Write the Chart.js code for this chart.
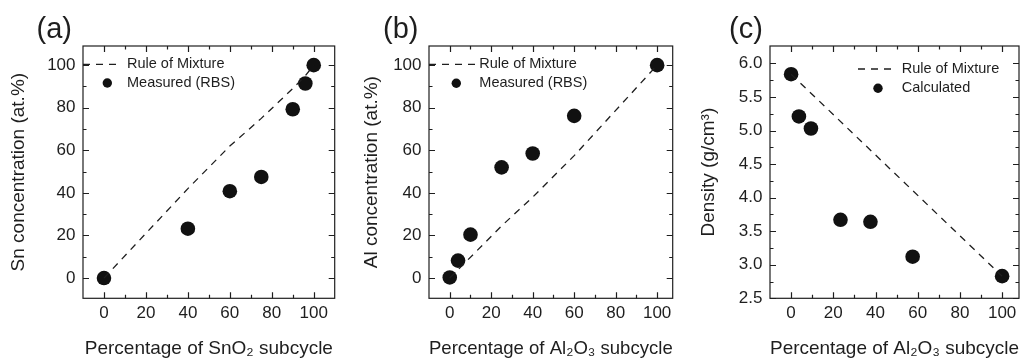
<!DOCTYPE html>
<html>
<head>
<meta charset="utf-8">
<script src="https://cdn.jsdelivr.net/npm/chart.js@4.4.1/dist/chart.umd.min.js"></script>
<style>
  body { margin: 0; background: #fff; width: 1027px; height: 358px; overflow: hidden; position: relative; }
  canvas { position: absolute; top: 0; }
</style>
</head>
<body>
<canvas id="chartA" width="342" height="358" style="left:0px"></canvas>
<canvas id="chartB" width="327" height="358" style="left:353px"></canvas>
<canvas id="chartC" width="337" height="358" style="left:690px"></canvas>
<script>
// (a) Sn concentration vs SnO2 subcycle
const sno2Pct = [0, 40, 60, 75, 90, 96, 100];
const snMeasured = [0, 23.2, 40.8, 47.5, 79.3, 91.4, 100];
const snRuleX = [0, 40, 60, 75, 90, 96, 100];
const snRuleY = [0, 42, 62, 75, 89, 95, 100];

// (b) Al concentration vs Al2O3 subcycle
const al2o3PctB = [0, 4, 10, 25, 40, 60, 100];
const alMeasured = [0.3, 8.2, 20.4, 52, 58.5, 76.2, 100];
const alRuleX = [0, 25, 40, 60, 100];
const alRuleY = [0, 24.5, 38, 57.5, 100];

// (c) density vs Al2O3 subcycle
const al2o3PctC = [0, 3.7, 9.4, 23.4, 37.6, 57.6, 100];
const density = [5.84, 5.21, 5.03, 3.67, 3.64, 3.12, 2.83];
const densRuleX = [0, 100];
const densRuleY = [5.84, 2.83];

// ticks
const pctTicks = [0, 20, 40, 60, 80, 100];
const pctMinor = [10, 30, 50, 70, 90];
const densTicks = [2.5, 3.0, 3.5, 4.0, 4.5, 5.0, 5.5, 6.0];
const densMinor = [2.75, 3.25, 3.75, 4.25, 4.75, 5.25, 5.75];

const INK = '#1e1e1e';
const FONT = "'Liberation Sans', Arial, sans-serif";

const pts = (xs, ys) => xs.map((x, i) => ({ x: x, y: ys[i] }));

// box around the plot with inward ticks on all four sides
const framePlugin = {
  id: 'frame',
  beforeDatasetsDraw(chart, args, o) {
    const { ctx, chartArea: a, scales } = chart;
    const x = scales.x, y = scales.y;
    ctx.save();
    ctx.strokeStyle = INK;
    ctx.lineWidth = 1.2;
    ctx.strokeRect(a.left, a.top, a.right - a.left, a.bottom - a.top);
    ctx.beginPath();
    const xt = (vals, len) => vals.forEach(v => {
      const px = Math.round(x.getPixelForValue(v)) + 0.5;
      ctx.moveTo(px, a.bottom); ctx.lineTo(px, a.bottom - len);
      ctx.moveTo(px, a.top); ctx.lineTo(px, a.top + len);
    });
    const yt = (vals, len) => vals.forEach(v => {
      const py = Math.round(y.getPixelForValue(v)) + 0.5;
      ctx.moveTo(a.left, py); ctx.lineTo(a.left + len, py);
      ctx.moveTo(a.right, py); ctx.lineTo(a.right - len, py);
    });
    xt(x.ticks.map(t => t.value), 6);
    xt(o.xMinor, 3.5);
    yt(y.ticks.map(t => t.value), 6);
    yt(o.yMinor, 3.5);
    ctx.stroke();
    ctx.restore();
  }
};

// legend drawn inside the plot, plus the panel letter
const notePlugin = {
  id: 'note',
  afterDraw(chart, args, o) {
    const ctx = chart.ctx;
    const [line, dots] = chart.data.datasets;
    ctx.save();
    ctx.fillStyle = INK;
    ctx.font = '29px ' + FONT;
    ctx.textBaseline = 'alphabetic';
    ctx.fillText(o.tag, o.tagX, o.tagY);

    ctx.strokeStyle = line.borderColor;
    ctx.lineWidth = line.borderWidth;
    ctx.setLineDash(line.borderDash);
    ctx.beginPath();
    ctx.moveTo(o.x0, o.y0);
    ctx.lineTo(o.x1, o.y0);
    ctx.stroke();
    ctx.setLineDash([]);

    ctx.fillStyle = dots.backgroundColor;
    ctx.beginPath();
    ctx.arc(o.dotX, o.y0 + o.dy, 4.7, 0, Math.PI * 2);
    ctx.fill();

    ctx.fillStyle = INK;
    ctx.font = '14.5px ' + FONT;
    ctx.textBaseline = 'middle';
    ctx.fillText(line.label, o.textX, o.y0);
    ctx.fillText(dots.label, o.textX, o.y0 + o.dy);
    ctx.restore();
  }
};

function makePanel(id, p) {
  new Chart(document.getElementById(id), {
    type: 'scatter',
    data: {
      datasets: [
        {
          label: 'Rule of Mixture',
          data: p.rule,
          showLine: true,
          borderColor: INK,
          borderWidth: 1.3,
          borderDash: [7, 6],
          pointRadius: 0,
          fill: false
        },
        {
          label: p.dotLabel,
          data: p.dots,
          showLine: false,
          pointRadius: 7.3,
          pointHoverRadius: 7.3,
          backgroundColor: '#111',
          borderColor: '#111',
          borderWidth: 0
        }
      ]
    },
    options: {
      responsive: false,
      animation: false,
      layout: { padding: { top: 46, right: p.padRight, bottom: 0, left: 0 } },
      scales: {
        x: {
          type: 'linear',
          min: p.xMin, max: p.xMax,
          grid: { display: false, drawTicks: false },
          border: { display: false },
          afterBuildTicks: s => { s.ticks = pctTicks.map(v => ({ value: v })); },
          afterFit: s => { s.height = 59.7; },
          ticks: { autoSkip: false, maxRotation: 0, padding: 5, color: INK, font: { family: FONT, size: 17 }, callback: v => String(v) },
          title: { display: true, text: p.xTitle, color: INK, font: { family: FONT, size: 19 }, padding: { top: 0, bottom: -2 } }
        },
        y: {
          type: 'linear',
          min: p.yMin, max: p.yMax,
          grid: { display: false, drawTicks: false },
          border: { display: false },
          afterBuildTicks: s => { s.ticks = p.yTicks.map(v => ({ value: v })); },
          afterFit: s => { s.width = p.axisW; },
          ticks: { autoSkip: false, padding: 7.5, color: INK, font: { family: FONT, size: 17 }, callback: p.yFmt },
          title: { display: true, text: p.yTitle, color: INK, font: { family: FONT, size: 19 }, padding: { top: 7, bottom: 0 } }
        }
      },
      plugins: {
        legend: { display: false },
        tooltip: { enabled: false },
        frame: { xMinor: pctMinor, yMinor: p.yMinor },
        note: p.note
      }
    },
    plugins: [framePlugin, notePlugin]
  });
}

makePanel('chartA', {
  rule: pts(snRuleX, snRuleY),
  dots: pts(sno2Pct, snMeasured),
  dotLabel: 'Measured (RBS)',
  xMin: -10, xMax: 110, yMin: -9.5, yMax: 109,
  yTicks: pctTicks, yMinor: pctMinor, yFmt: v => String(v),
  axisW: 83, padRight: 5.4,
  xTitle: 'Percentage of SnO\u2082 subcycle',
  yTitle: 'Sn concentration (at.%)',
  note: { tag: '(a)', tagX: 36.5, tagY: 37.7, x0: 83, x1: 121, textX: 127, dotX: 107.3, y0: 64.3, dy: 18.7 }
});

makePanel('chartB', {
  rule: pts(alRuleX, alRuleY),
  dots: pts(al2o3PctB, alMeasured),
  dotLabel: 'Measured (RBS)',
  xMin: -10, xMax: 107.5, yMin: -9.5, yMax: 109,
  yTicks: pctTicks, yMinor: pctMinor, yFmt: v => String(v),
  axisW: 76, padRight: 5,
  xTitle: 'Percentage of Al\u2082O\u2083 subcycle',
  yTitle: 'Al concentration (at.%)',
  note: { tag: '(b)', tagX: 30, tagY: 37.7, x0: 76, x1: 122, textX: 126.3, dotX: 103.3, y0: 64.3, dy: 19 }
});

makePanel('chartC', {
  rule: pts(densRuleX, densRuleY),
  dots: pts(al2o3PctC, density),
  dotLabel: 'Calculated',
  xMin: -10, xMax: 108, yMin: 2.5, yMax: 6.26,
  yTicks: densTicks, yMinor: densMinor, yFmt: v => v.toFixed(1),
  axisW: 80, padRight: 8,
  xTitle: 'Percentage of Al\u2082O\u2083 subcycle',
  yTitle: 'Density (g/cm\u00b3)',
  note: { tag: '(c)', tagX: 39, tagY: 37.7, x0: 168, x1: 203, textX: 211.7, dotX: 188, y0: 69, dy: 19.3 }
});
</script>
</body>
</html>
